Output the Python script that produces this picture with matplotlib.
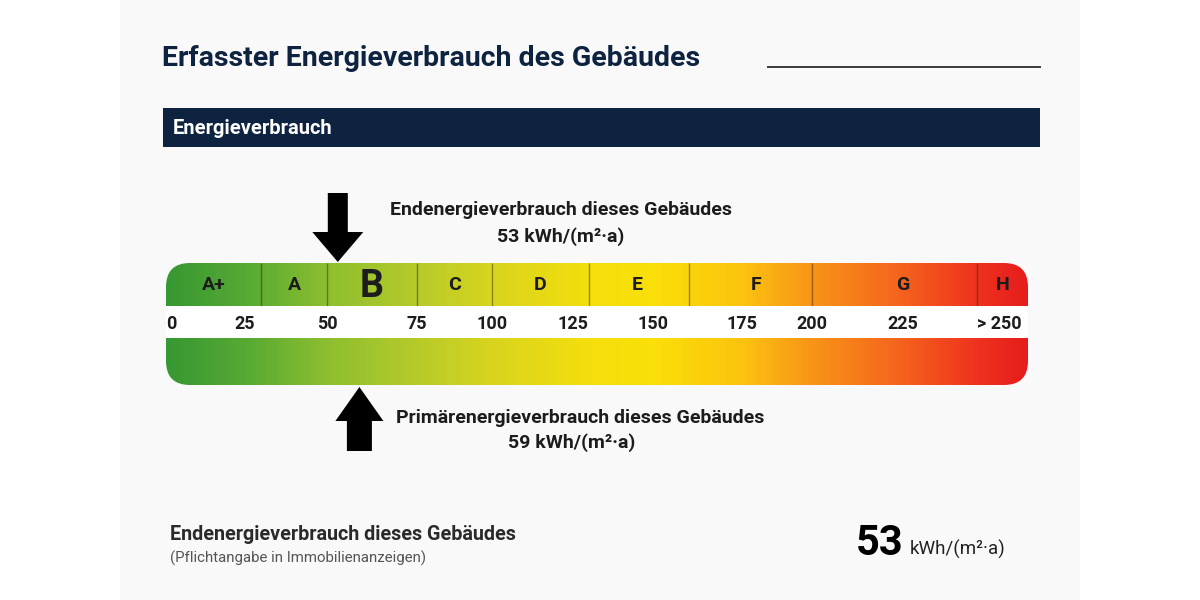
import numpy as np
import matplotlib
matplotlib.use('Agg')
import matplotlib.pyplot as plt
from matplotlib.colors import LinearSegmentedColormap, Normalize
from matplotlib.patches import FancyBboxPatch, FancyArrow, Rectangle

# ---------------- data ----------------
classes = ['A+', 'A', 'B', 'C', 'D', 'E', 'F', 'G', 'H']
class_edges = [0, 30, 50, 75, 100, 130, 160, 200, 250, 275]   # kWh/(m²·a)
current_class = 'B'
tick_values = [0, 25, 50, 75, 100, 125, 150, 175, 200, 225, 250]
tick_labels = ['0', '25', '50', '75', '100', '125', '150', '175', '200', '225', '> 250']
end_energy = 53       # Endenergieverbrauch
primary_energy = 59   # Primärenergieverbrauch

# colour stops of the label gradient (kWh -> colour)
grad_kwh = [0, 25, 50, 75, 100, 130, 150, 175, 200, 225, 250, 275]
grad_col = ['#379732', '#56a933', '#8dbe2f', '#b6ca2a', '#d8d41d', '#f3de0c',
            '#fadf08', '#fbc30f', '#f89417', '#f4621d', '#ee321e', '#e51c1c']

# the printed scale is not linear: position of each value along the bar (px)
scale_kwh = [0, 25, 50, 75, 100, 125, 150, 175, 200, 225, 250, 275]
scale_pos = [0, 79, 161, 251, 326, 407, 487, 576, 646, 737, 811, 862]

# ---------------- layout ----------------
W, H = 1200, 600
navy = '#0d2340'
txt = '#1c1c1c'
cond = ['Liberation Sans Narrow', 'DejaVu Sans Condensed', 'Roboto']

bar_left, bar_right = 166, 1028
bar_top, bar_bottom = 263, 385
gap_top, gap_bottom = 306, 338

fig = plt.figure(figsize=(12, 6), dpi=100)
fig.patch.set_facecolor('white')

bg = fig.add_axes([0, 0, 1, 1])
bg.set_xlim(0, W); bg.set_ylim(H, 0)
bg.axis('off')

bg.add_patch(Rectangle((120, 0), 960, H, color='#f9f9f9', lw=0, zorder=0))

# title + rule
bg.text(162, 58, 'Erfasster Energieverbrauch des Gebäudes', fontsize=20.5,
        fontweight='bold', color=navy, family=cond, va='center', ha='left')
bg.plot([768, 1040], [67, 67], color='#3a3a3a', lw=1.4)

# header band
bg.add_patch(Rectangle((163, 108), 877, 39, color=navy, lw=0, zorder=1))
bg.text(173, 129, 'Energieverbrauch', fontsize=14.5, fontweight='bold',
        color='white', family=cond, va='center', ha='left', zorder=2)

# ---------------- scale axes ----------------
ax = fig.add_axes([bar_left / W, 1 - bar_bottom / H,
                   (bar_right - bar_left) / W, (bar_bottom - bar_top) / H])
fwd = lambda x: np.interp(x, scale_kwh, scale_pos)
inv = lambda y: np.interp(y, scale_pos, scale_kwh)
ax.set_xscale('function', functions=(fwd, inv))
ax.set_xlim(class_edges[0], class_edges[-1])
ax.set_ylim(bar_bottom, bar_top)
ax.axis('off')
ax.patch.set_alpha(0)

cmap = LinearSegmentedColormap.from_list(
    'energy', list(zip(np.array(grad_kwh) / grad_kwh[-1], grad_col)))
xg = np.linspace(class_edges[0], class_edges[-1], 600)
mesh = ax.pcolormesh(xg, [bar_top, bar_bottom], 0.5 * (xg[1:] + xg[:-1])[None, :],
                     cmap=cmap, norm=Normalize(0, grad_kwh[-1]), shading='flat',
                     zorder=1)
clip = FancyBboxPatch((bar_left, bar_top), bar_right - bar_left, bar_bottom - bar_top,
                      boxstyle='round,pad=0,rounding_size=24', transform=bg.transData)
mesh.set_clip_path(clip)

ax.axhspan(gap_bottom, gap_top, color='white', lw=0, zorder=3)
ax.vlines(class_edges[1:-1], bar_top, gap_top, colors=[(0.15, 0.15, 0.05, 0.45)],
          lw=1, zorder=2)

lab_y = (bar_top + gap_top) / 2 + 1
for c, lo, hi in zip(classes, class_edges[:-1], class_edges[1:]):
    big = c == current_class
    ax.text((lo + hi) / 2, lab_y + (1 if big else 0), c,
            fontsize=27 if big else 14, fontweight='bold', color=txt,
            ha='center', va='center', zorder=4, family=['Roboto'])

tick_y = (gap_top + gap_bottom) / 2 + 2
for i, (v, l) in enumerate(zip(tick_values, tick_labels)):
    ha = 'left' if i in (0, len(tick_values) - 1) else 'center'
    ax.text(v, tick_y, l, fontsize=13, fontweight='bold', color=txt,
            ha=ha, va='center', zorder=4, family=['Roboto'])

# ---------------- arrows ----------------
def bar_x(v):
    disp = ax.transData.transform((v, bar_top))
    return bg.transData.inverted().transform(disp)[0]

xe = bar_x(end_energy)
bg.add_patch(FancyArrow(xe, 193, 0, bar_top - 1 - 193, width=20, head_width=51,
                        head_length=30, length_includes_head=True,
                        color='black', lw=0, zorder=5))
xp = bar_x(primary_energy)
bg.add_patch(FancyArrow(xp, 451, 0, bar_bottom + 2 - 451, width=25, head_width=48,
                        head_length=34, length_includes_head=True,
                        color='black', lw=0, zorder=5))

bg.text(561, 210, 'Endenergieverbrauch dieses Gebäudes', fontsize=14,
        fontweight='bold', color=txt, family=cond, ha='center', va='center')
bg.text(561, 237, f'{end_energy} kWh/(m²·a)', fontsize=14,
        fontweight='bold', color=txt, family=cond, ha='center', va='center')
bg.text(580, 418, 'Primärenergieverbrauch dieses Gebäudes', fontsize=14,
        fontweight='bold', color=txt, family=cond, ha='center', va='center')
bg.text(572, 443, f'{primary_energy} kWh/(m²·a)', fontsize=14,
        fontweight='bold', color=txt, family=cond, ha='center', va='center')

# ---------------- footer ----------------
bg.text(170, 534, 'Endenergieverbrauch dieses Gebäudes', fontsize=14.2,
        fontweight='bold', color='#2a2a2a', family=cond, ha='left', va='center')
bg.text(170, 558, '(Pflichtangabe in Immobilienanzeigen)', fontsize=10.8,
        color='#555555', family=cond, ha='left', va='center')
bg.text(903, 555, f'{end_energy}', fontsize=30, fontweight='bold', color='black',
        family=cond, ha='right', va='baseline')
bg.text(910, 555, 'kWh/(m²·a)', fontsize=13.5, color='#222222',
        family=cond, ha='left', va='baseline')

fig.savefig('out.png', dpi=100, facecolor=fig.get_facecolor())
